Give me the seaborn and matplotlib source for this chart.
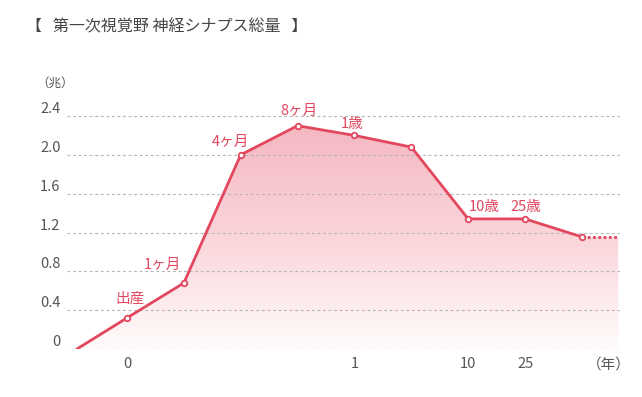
import numpy as np
import pandas as pd
import seaborn as sns
import matplotlib.pyplot as plt
from matplotlib.colors import LinearSegmentedColormap

# data
stage_labels = ["", "出産", "1ヶ月", "4ヶ月", "8ヶ月", "1歳", "", "10歳", "25歳", ""]
stage_pos = [-0.88, 0, 1, 2, 3, 4, 5, 6, 7, 8]
synapse_total = [0, 0.32, 0.68, 2.0, 2.3, 2.2, 2.08, 1.34, 1.34, 1.155]
tail_end = 8.64
x_tick_pos = [0, 4, 6, 7, 8.48]
x_tick_labels = ["0", "1", "10", "25", "（年）"]
y_ticks = [0, 0.4, 0.8, 1.2, 1.6, 2.0, 2.4]
y_tick_labels = ["0", "0.4", "0.8", "1.2", "1.6", "2.0", "2.4"]

# label offsets in pixels (dx, dy)
label_offsets = [(0, 0), (3, 19), (-21, 18), (-10, 13), (1, 15), (-2, 11),
                 (0, 0), (16, 12), (1, 12), (0, 0)]

df = pd.DataFrame({"pos": stage_pos, "value": synapse_total, "label": stage_labels})

sns.set_style("white")
plt.rcParams['font.family'] = ['Noto Sans CJK JP', 'DejaVu Sans']

red = "#e2475e"
grey = "#555555"

fig = plt.figure(figsize=(6.42, 3.97), dpi=100)
ax = fig.add_axes([66.7 / 642, 1 - 349 / 397, (620 - 66.7) / 642, (349 - 106.3) / 397])

# gradient fill under the curve
fill_x = stage_pos + [tail_end]
fill_y = synapse_total + [synapse_total[-1]]
poly = ax.fill_between(fill_x, fill_y, 0, facecolor="none", edgecolor="none")
cmap = LinearSegmentedColormap.from_list("pink", ["#fffbfb", "#fad5da", "#f5b8c2"])
grad = np.linspace(1, 0, 256).reshape(-1, 1)
im = ax.imshow(grad, cmap=cmap, aspect="auto", origin="upper",
               extent=[stage_pos[0], tail_end, 0, max(synapse_total)], zorder=1)
im.set_clip_path(poly.get_paths()[0], transform=ax.transData)

# main line
sns.lineplot(data=df, x="pos", y="value", color=red, lw=2.0, marker="o",
             markevery=list(range(1, len(df))), markersize=4,
             markerfacecolor="white", markeredgecolor=red, markeredgewidth=1.3,
             ax=ax, zorder=4)
# dotted tail
sns.lineplot(x=[stage_pos[-1], tail_end], y=[synapse_total[-1]] * 2, color=red,
             lw=2.0, linestyle=(0, (1, 0.9)), ax=ax, zorder=3)

for (_, row), (dx, dy) in zip(df.iterrows(), label_offsets):
    if row["label"]:
        ax.annotate(row["label"], (row["pos"], row["value"]), xytext=(dx, dy),
                    textcoords="offset pixels", ha="center", va="center",
                    color=red, fontsize=10.5)

ax.set_xlim(-1.06, 8.67)
ax.set_ylim(0, 2.5)
ax.set_yticks(y_ticks, y_tick_labels)
ax.set_xticks(x_tick_pos, x_tick_labels)
ax.tick_params(axis="both", length=0, colors=grey, labelsize=10.5)
ax.tick_params(axis="y", pad=4.5)
ax.tick_params(axis="x", pad=6)
for lab in ax.get_yticklabels():
    lab.set_verticalalignment("bottom")
ax.set_axisbelow(False)
ax.yaxis.grid(True, color="#b5b5b5", linestyle=(0, (2.5, 2.5)), lw=0.8)
ax.xaxis.grid(False)
sns.despine(ax=ax, left=True, bottom=True)
ax.set_xlabel("")
ax.set_ylabel("")
ax.set_facecolor("none")

fig.text(36 / 642, 1 - 83 / 397, "（兆）", fontsize=9, color=grey, va="center")
fig.text(26 / 642, 1 - 27 / 397, "【   第一次視覚野 神経シナプス総量   】",
         fontsize=11.5, color="#444444", va="center")

fig.savefig("out.png", dpi=100)
